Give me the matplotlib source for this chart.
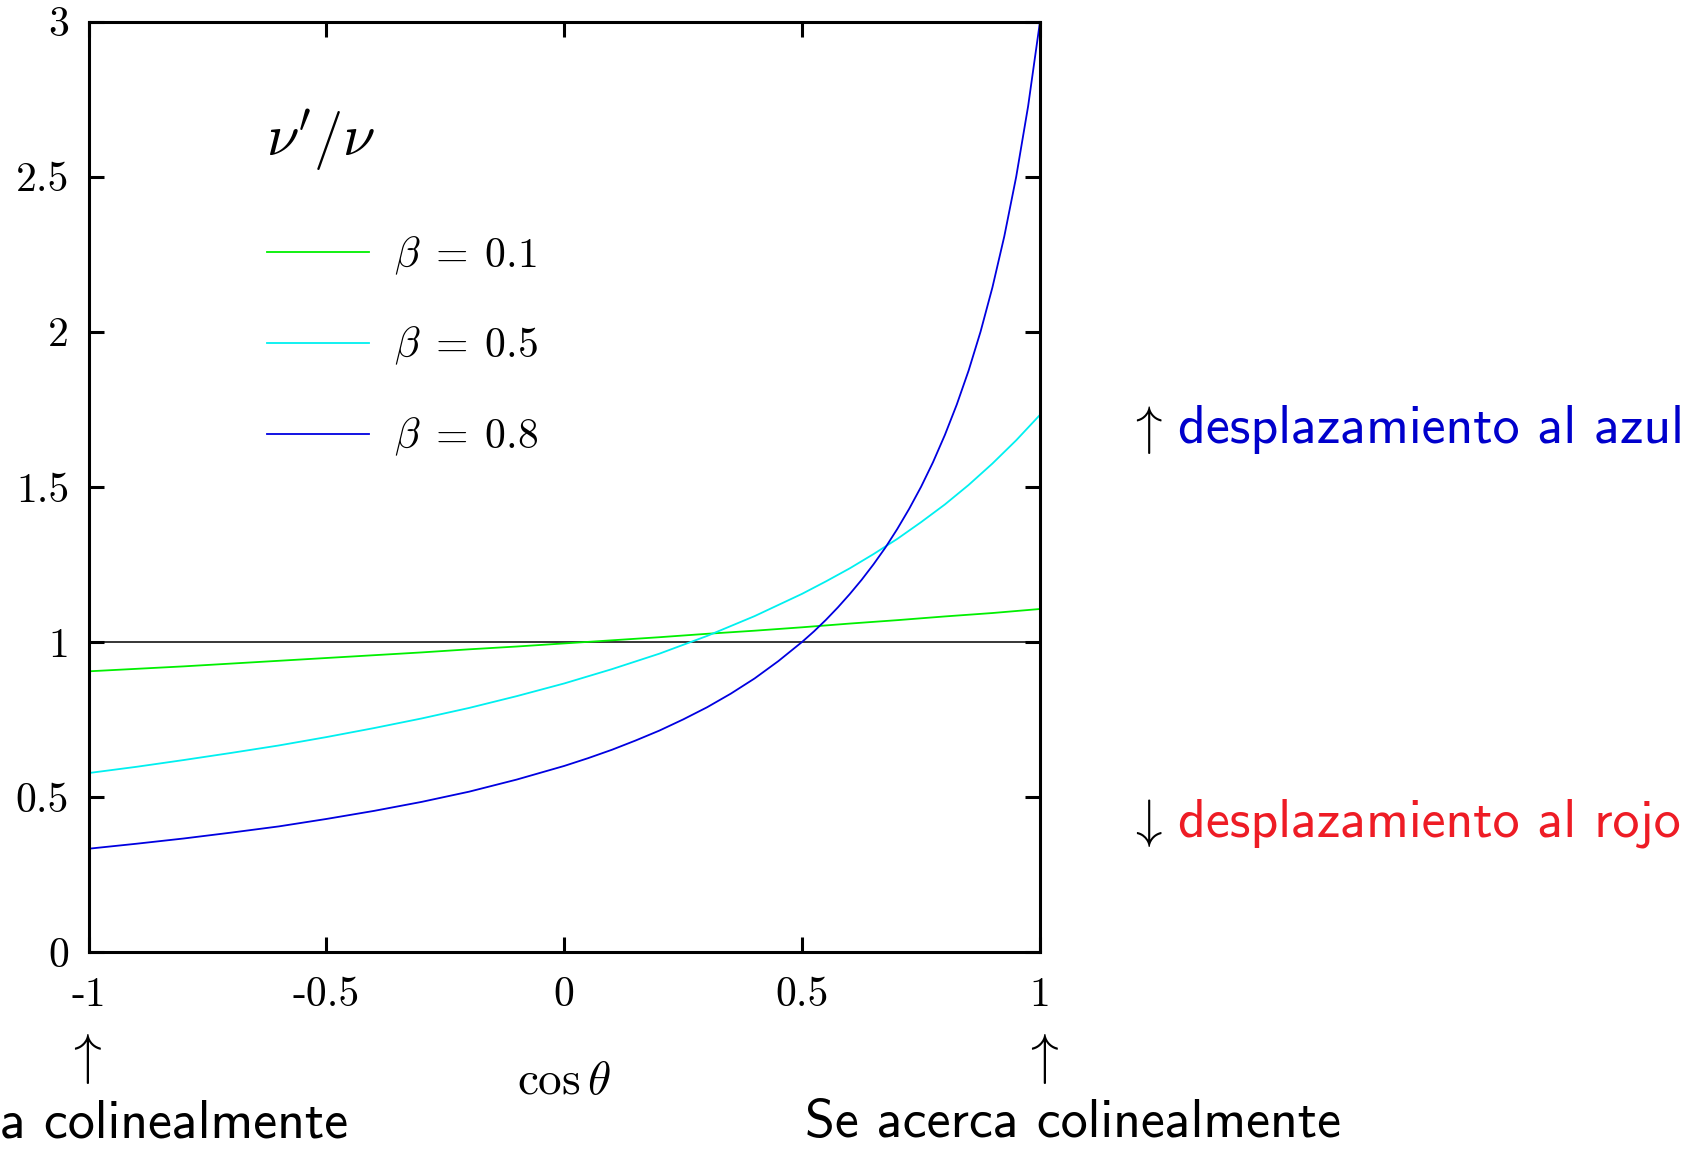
import matplotlib
matplotlib.use("Agg")
import matplotlib.pyplot as plt

plt.rcParams['mathtext.fontset'] = 'cm'

# ---- data ----
x_b01 = [-1.0, -0.9, -0.8, -0.7, -0.6, -0.5, -0.4, -0.3, -0.2, -0.1, 0.0,
         0.1, 0.2, 0.3, 0.4, 0.5, 0.6, 0.7, 0.8, 0.9, 1.0]
y_b01 = [0.905, 0.913, 0.921, 0.930, 0.939, 0.948, 0.957, 0.966, 0.976, 0.985, 0.995,
         1.005, 1.015, 1.026, 1.036, 1.047, 1.059, 1.070, 1.082, 1.093, 1.106]

x_b05 = [-1.0, -0.9, -0.8, -0.7, -0.6, -0.5, -0.4, -0.3, -0.2, -0.1, 0.0,
         0.1, 0.2, 0.3, 0.4, 0.5, 0.55, 0.6, 0.65, 0.7, 0.75, 0.8, 0.85, 0.9, 0.95, 1.0]
y_b05 = [0.577, 0.597, 0.619, 0.642, 0.666, 0.693, 0.722, 0.753, 0.787, 0.825, 0.866,
         0.912, 0.962, 1.019, 1.083, 1.155, 1.195, 1.237, 1.283, 1.332, 1.386, 1.443,
         1.506, 1.575, 1.650, 1.732]

x_b08 = [-1.0, -0.9, -0.8, -0.7, -0.6, -0.5, -0.4, -0.3, -0.2, -0.1, 0.0,
         0.05, 0.1, 0.15, 0.2, 0.25, 0.3, 0.35, 0.4, 0.45, 0.5, 0.525, 0.55, 0.575,
         0.6, 0.625, 0.65, 0.675, 0.7, 0.725, 0.75, 0.775, 0.8, 0.825, 0.85, 0.875,
         0.9, 0.925, 0.95, 0.975, 1.0]
y_b08 = [0.333, 0.349, 0.366, 0.385, 0.405, 0.429, 0.455, 0.484, 0.517, 0.556, 0.600,
         0.625, 0.652, 0.682, 0.714, 0.750, 0.789, 0.833, 0.882, 0.938, 1.000, 1.034,
         1.071, 1.111, 1.154, 1.200, 1.250, 1.304, 1.364, 1.429, 1.500, 1.579, 1.667,
         1.765, 1.875, 2.000, 2.143, 2.308, 2.500, 2.727, 3.000]

series_labels = [r'$\beta \;=\; 0.1$', r'$\beta \;=\; 0.5$', r'$\beta \;=\; 0.8$']
series_colors = ['#00f000', '#00f0f0', '#0000e0']
legend_title = r"$\nu'/\nu$"

x_ticks = [-1, -0.5, 0, 0.5, 1]
x_ticklabels = ['-1', '-0.5', '0', '0.5', '1']
y_ticks = [0, 0.5, 1, 1.5, 2, 2.5, 3]
y_ticklabels = ['0', '0.5', '1', '1.5', '2', '2.5', '3']
ref_level = 1.0

W, H = 1695, 1149
fig = plt.figure(figsize=(W / 100, H / 100), dpi=100)
ax = fig.add_axes([88.6 / W, 1 - 952 / H, (1040 - 88.6) / W, (952 - 21.6) / H])

ax.axhline(ref_level, color='black', lw=1.1, zorder=1)
for xs, ys, lab, col in zip([x_b01, x_b05, x_b08], [y_b01, y_b05, y_b08],
                            series_labels, series_colors):
    ax.plot(xs, ys, color=col, lw=1.3, label=lab, zorder=2)

ax.set_xlim(-1, 1)
ax.set_ylim(0, 3)
ax.set_xticks(x_ticks)
ax.set_xticklabels(x_ticklabels, fontfamily='cmr10', fontsize=30)
ax.set_yticks(y_ticks)
ax.set_yticklabels(y_ticklabels, fontfamily='cmr10', fontsize=30)
ax.tick_params(direction='in', length=11, width=2.2, top=True, right=True)
ax.tick_params(axis='x', pad=18)
ax.tick_params(axis='y', pad=14)
for sp in ax.spines.values():
    sp.set_linewidth(2.2)

ax.set_xlabel(r'$\cos\theta$', fontsize=34, labelpad=32)

def ftext(px, py, s, **kw):
    fig.text(px / W, 1 - py / H, s, **kw)

# legend title
ftext(266, 140, legend_title, fontsize=42, ha='left', va='center')

leg = ax.legend(loc='upper left', bbox_to_anchor=(267 / W, 1 - 234 / H),
                bbox_transform=fig.transFigure, frameon=False, fontsize=30,
                handlelength=2.45, handletextpad=0.6, labelspacing=1.15,
                borderpad=0, borderaxespad=0)

ftext(1144, 430, r'$\uparrow$', fontsize=38, ha='center', va='center')
ftext(1178, 430, 'desplazamiento al azul', fontfamily='cmss10', fontsize=38.8,
      color='#0000cc', ha='left', va='center')
ftext(1144, 823, r'$\downarrow$', fontsize=38, ha='center', va='center')
ftext(1178, 823, 'desplazamiento al rojo', fontfamily='cmss10', fontsize=38.8,
      color='#ee1c25', ha='left', va='center')

ftext(83, 1058, r'$\uparrow$', fontsize=40, ha='center', va='center')
ftext(1040, 1058, r'$\uparrow$', fontsize=40, ha='center', va='center')
ftext(0, 1124, 'a colinealmente', fontfamily='cmss10', fontsize=38.8,
      ha='left', va='center')
ftext(805, 1124, 'Se acerca colinealmente', fontfamily='cmss10', fontsize=38.8,
      ha='left', va='center')

fig.savefig('out.png', dpi=100)
